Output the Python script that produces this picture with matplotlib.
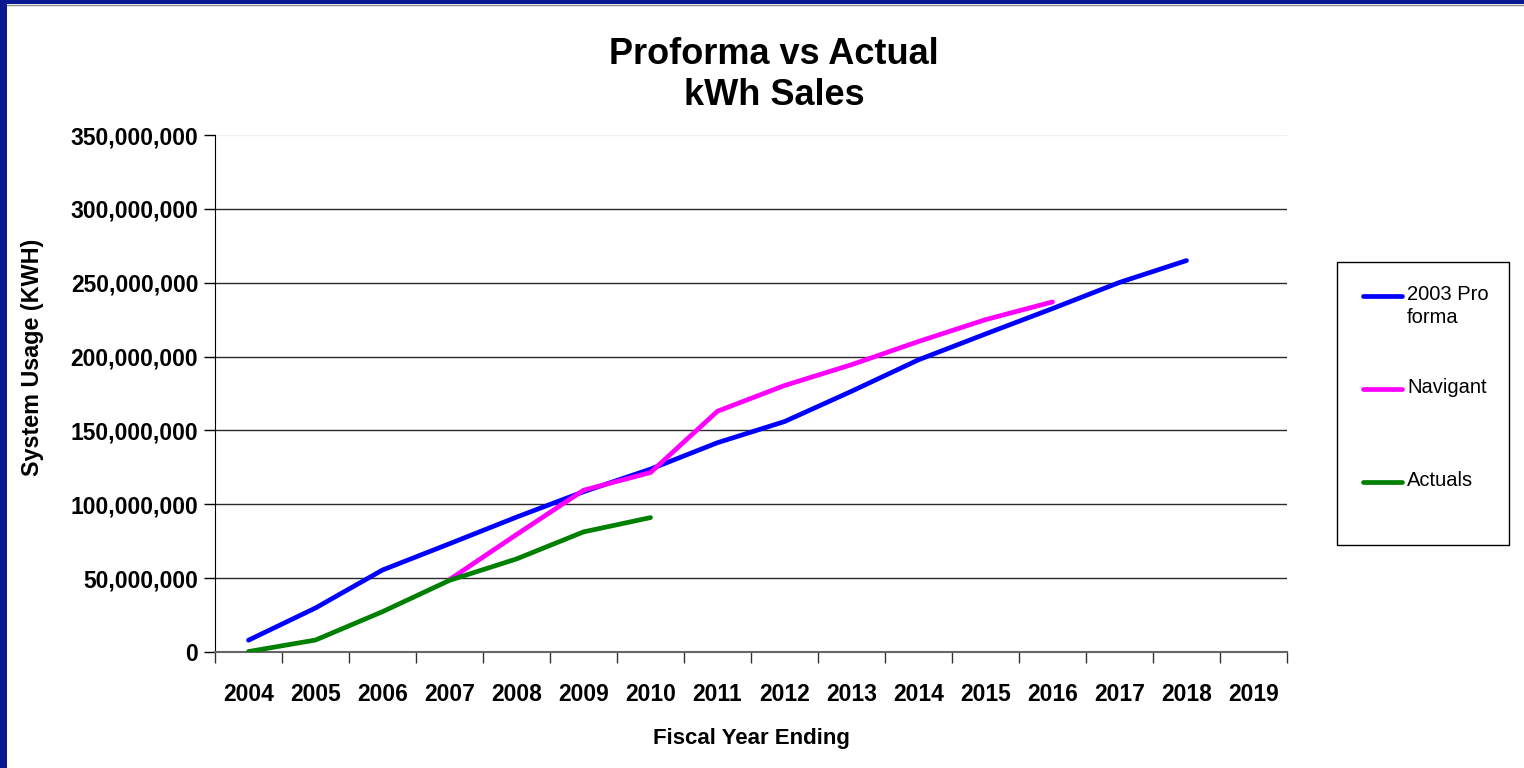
import matplotlib
matplotlib.use("Agg")
import matplotlib.pyplot as plt
from matplotlib.lines import Line2D
from matplotlib.patches import Rectangle
from matplotlib.ticker import FuncFormatter, MultipleLocator

years = list(range(2004, 2020))

# kWh sales by fiscal year (None = no value for that year)
proforma_2003 = [8.0e6, 29.8e6, 55.5e6, 73.3e6, 91.3e6, 108.5e6, 123.8e6, 141.7e6,
                 156.0e6, 176.5e6, 197.8e6, 215.3e6, 232.5e6, 250.2e6, 265.0e6, None]
navigant = [None, None, None, 49.0e6, 79.5e6, 109.5e6, 121.5e6, 163.0e6,
            180.4e6, 194.5e6, 210.2e6, 225.0e6, 237.0e6, None, None, None]
actuals = [0.3e6, 8.1e6, 27.3e6, 48.5e6, 63.0e6, 81.3e6, 91.0e6, None,
           None, None, None, None, None, None, None, None]

series_names = ["2003 Pro\nforma", "Navigant", "Actuals"]
series_colors = ["#0000ff", "#ff00ff", "#008000"]

plt.rcParams["font.family"] = ["Liberation Sans", "DejaVu Sans"]

fig = plt.figure(figsize=(15.24, 7.68), dpi=100)
fig.patch.set_facecolor("white")

# slide frame: dark blue strips on the left and top edges
fig.add_artist(Rectangle((0, 0), 7 / 1524, 1, transform=fig.transFigure,
                         facecolor="#0b1790", edgecolor="none", zorder=0))
fig.add_artist(Rectangle((0, 1 - 4 / 768), 1, 4 / 768, transform=fig.transFigure,
                         facecolor="#0b1790", edgecolor="none", zorder=0))
fig.add_artist(Line2D([7 / 1524, 1], [1 - 5 / 768, 1 - 5 / 768], transform=fig.transFigure,
                      color="#8a8f88", lw=1))

ax = fig.add_axes([215 / 1524, 1 - 652 / 768, 1072 / 1524, 517 / 768])

x = list(range(len(years)))
for vals, color in zip([proforma_2003, navigant, actuals], series_colors):
    xs = [i for i, v in zip(x, vals) if v is not None]
    ys = [v for v in vals if v is not None]
    ax.plot(xs, ys, color=color, lw=3.4, solid_capstyle="round", solid_joinstyle="round",
            zorder=3)

ax.set_xlim(-0.5, len(years) - 0.5)
ax.set_ylim(0, 350e6)

# horizontal gridlines, top one faint
for yv in range(50, 351, 50):
    ax.axhline(yv * 1e6, color="#f0f0f0" if yv == 350 else "#2a2a2a", lw=1, zorder=1)

ax.yaxis.set_major_locator(MultipleLocator(50e6))
ax.yaxis.set_major_formatter(FuncFormatter(lambda v, p: f"{v:,.0f}"))
ax.set_xticks(x)
ax.set_xticklabels([str(y) for y in years])
ax.set_xticks([i - 0.5 for i in range(len(years) + 1)], minor=True)
ax.tick_params(axis="x", which="major", length=0, pad=22, labelsize=16.5)
ax.tick_params(axis="x", which="minor", length=8, width=1, color="#333333", direction="out")
ax.tick_params(axis="y", length=8, width=1, pad=4, labelsize=16.5)
for lbl in ax.get_xticklabels() + ax.get_yticklabels():
    lbl.set_fontweight("bold")

for s in ["top", "right"]:
    ax.spines[s].set_visible(False)
ax.spines["left"].set_color("black")
ax.spines["bottom"].set_color("#666666")
ax.spines["bottom"].set_linewidth(1.5)

ax.set_xlabel("Fiscal Year Ending", fontsize=16, fontweight="bold", labelpad=16)
fig.text(33 / 1524, 1 - 357 / 768, "System Usage (KWH)", rotation=90, fontsize=16.8,
         fontweight="bold", ha="center", va="center")

fig.text(774 / 1524, 1 - 75 / 768, "Proforma vs Actual\nkWh Sales", fontsize=26,
         fontweight="bold", ha="center", va="center", linespacing=1.2)

# legend box
fig.add_artist(Rectangle((1337 / 1524, 1 - 545 / 768), 172 / 1524, 283 / 768,
                         transform=fig.transFigure, facecolor="white",
                         edgecolor="black", lw=1))
legend_y = [296, 389, 482]
for name, color, ly in zip(series_names, series_colors, legend_y):
    yf = 1 - ly / 768
    fig.add_artist(Line2D([1363 / 1524, 1402 / 1524], [yf, yf], transform=fig.transFigure,
                          color=color, lw=3.4, solid_capstyle="round"))
    fig.text(1407 / 1524, 1 - (ly - 11) / 768, name, fontsize=14.5, ha="left", va="top",
             linespacing=1.25)

fig.savefig("out.png", dpi=100)
